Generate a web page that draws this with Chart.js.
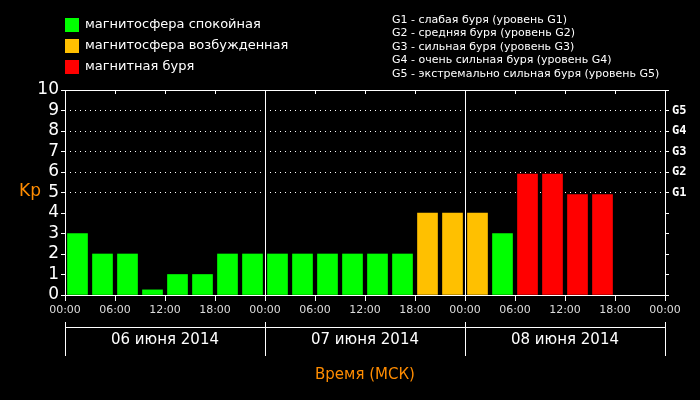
<!DOCTYPE html>
<html><head><meta charset="utf-8">
<script src="https://cdn.jsdelivr.net/npm/chart.js@4"></script>
<style>body{margin:0;background:#000}#wrap{width:700px;height:400px}</style>
</head><body><div id="wrap"><canvas id="kp"></canvas></div>
<script>
const hours = [1.5,4.5,7.5,10.5,13.5,16.5,19.5,22.5, 25.5,28.5,31.5,34.5,37.5,40.5,43.5,46.5, 49.5,52.5,55.5,58.5,61.5,64.5];
const kpValues = [3,2,2,0.25,1,1,2,2, 2,2,2,2,2,2,4,4, 4,3,5.9,5.9,4.9,4.9];
const days = ['06 июня 2014','07 июня 2014','08 июня 2014'];
const gLabels = {5:'G1',6:'G2',7:'G3',8:'G4',9:'G5'};
const legendItems = [['#00ff00','магнитосфера спокойная'],['#ffc000','магнитосфера возбужденная'],['#ff0000','магнитная буря']];
const gLegend = ['G1 - слабая буря (уровень G1)','G2 - средняя буря (уровень G2)','G3 - сильная буря (уровень G3)','G4 - очень сильная буря (уровень G4)','G5 - экстремально сильная буря (уровень G5)'];

const colorFor = v => v >= 4.5 ? '#ff0000' : (v >= 3.5 ? '#ffc000' : '#00ff00');

const extras = {
  id: 'extras',
  afterDraw(chart) {
    const c = chart.ctx, a = chart.chartArea, x = chart.scales.x;
    c.save();
    c.strokeStyle = '#fff'; c.lineWidth = 1;
    c.strokeRect(a.left + 0.5, a.top + 0.5, a.right - a.left, a.bottom - a.top);
    for (let h = 0; h <= 72; h += 6) {
      const px = Math.round(x.getPixelForValue(h)) + 0.5;
      c.beginPath(); c.moveTo(px, a.top); c.lineTo(px, a.top + 4); c.stroke();
    }
    c.beginPath();
    c.moveTo(x.getPixelForValue(0), 327.5); c.lineTo(x.getPixelForValue(72), 327.5);
    for (let d = 0; d <= 3; d++) {
      const px = Math.round(x.getPixelForValue(d * 24)) + 0.5;
      c.moveTo(px, 322); c.lineTo(px, 356);
    }
    c.stroke();
    c.fillStyle = '#fff'; c.font = '15px "DejaVu Sans"'; c.textAlign = 'center'; c.textBaseline = 'middle';
    days.forEach((d, i) => c.fillText(d, x.getPixelForValue(i * 24 + 12), 340));
    c.fillStyle = '#ff8c00'; c.font = '15px "DejaVu Sans"';
    c.fillText('Время (МСК)', x.getPixelForValue(36), 375);
    c.font = '17px "DejaVu Sans"'; c.fillText('Kp', 30, 192);
    c.textAlign = 'left';
    legendItems.forEach((it, i) => {
      const y = 18 + i * 21;
      c.fillStyle = it[0]; c.fillRect(65, y, 14, 14);
      c.fillStyle = '#fff'; c.font = '13px "DejaVu Sans"'; c.fillText(it[1], 85, y + 7);
    });
    c.font = '11px "DejaVu Sans"';
    gLegend.forEach((t, i) => c.fillText(t, 392, 20 + i * 13.5));
    c.restore();
  }
};

new Chart(document.getElementById('kp'), {
  type: 'bar',
  data: {
    datasets: [{
      data: hours.map((h, i) => ({x: h, y: kpValues[i]})),
      backgroundColor: kpValues.map(colorFor),
      barThickness: 20,
      borderWidth: 0
    }]
  },
  options: {
    responsive: true, maintainAspectRatio: false, animation: false,
    layout: {padding: {top: 90}},
    plugins: {legend: {display: false}, tooltip: {enabled: false}},
    scales: {
      x: {
        type: 'linear', min: 0, max: 72, offset: false,
        afterFit: s => { s.height = 105; },
        afterBuildTicks: s => { s.ticks = []; for (let h = 0; h <= 72; h += 6) s.ticks.push({value: h}); },
        ticks: {color: '#ddd', font: {size: 11, family: 'DejaVu Sans'}, maxRotation: 0, autoSkip: false,
          callback: v => String(v % 24).padStart(2, '0') + ':00'},
        grid: {offset: false, color: c => (c.tick && (c.tick.value === 24 || c.tick.value === 48)) ? '#fff' : 'transparent',
          tickColor: '#fff', tickLength: 6},
        border: {display: false}
      },
      y: {
        min: 0, max: 10,
        afterFit: s => { s.width = 65; },
        ticks: {stepSize: 1, autoSkip: false, color: '#fff', font: {size: 17, family: 'DejaVu Sans'}, padding: 2},
        grid: {color: c => (c.tick && c.tick.value >= 5 && c.tick.value <= 9) ? '#fff' : 'transparent',
          tickColor: '#fff', tickLength: 4},
        border: {display: false, dash: [1, 4]}
      },
      y2: {
        position: 'right', min: 0, max: 10,
        afterFit: s => { s.width = 35; },
        ticks: {stepSize: 1, autoSkip: false, color: '#fff', font: {size: 12, family: 'DejaVu Sans Mono', weight: 'bold'},
          callback: v => gLabels[v] || ''},
        grid: {drawOnChartArea: false, tickColor: '#fff', tickLength: 4},
        border: {display: false}
      }
    }
  },
  plugins: [extras]
});
</script></body></html>
